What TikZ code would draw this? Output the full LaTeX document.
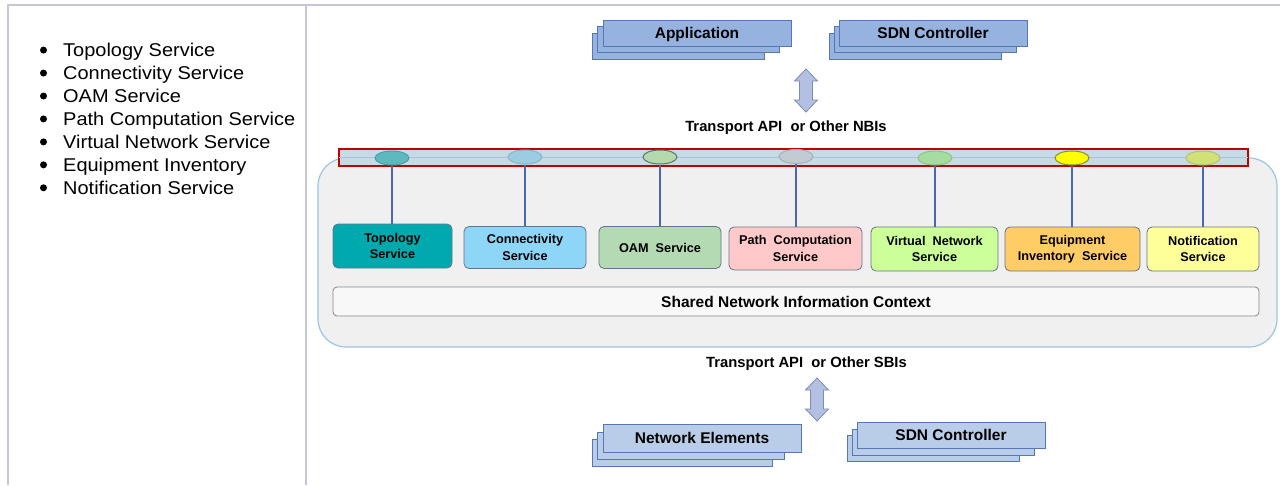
\documentclass[tikz,border=0pt]{standalone}
\usepackage{fontspec}
\setmainfont{Liberation Sans}
\newfontfamily\listfont[FakeStretch=1.08]{Liberation Sans}
\usetikzlibrary{shapes.geometric}
\definecolor{tablegray}{HTML}{C4C8D4}
\definecolor{contfill}{HTML}{F0F0F0}
\definecolor{contedge}{HTML}{9DC3E6}
\definecolor{busred}{HTML}{C00000}
\definecolor{busfill}{HTML}{C8DAE6}
\definecolor{busline}{HTML}{A6C4DA}
\definecolor{linkblue}{HTML}{4A68B0}
\definecolor{boxedge}{HTML}{66748C}
\definecolor{topblue}{HTML}{95B3DE}
\definecolor{botblue}{HTML}{B9CDE8}
\definecolor{stackedge}{HTML}{5577B8}
\definecolor{arrowfill}{HTML}{B4C0E2}
\definecolor{arrowedge}{HTML}{7C8CB4}
\definecolor{sharedfill}{HTML}{F8F8F8}
\definecolor{sharededge}{HTML}{808890}
\definecolor{cTopo}{HTML}{00A9AD}
\definecolor{cConn}{HTML}{8DD6F7}
\definecolor{cOam}{HTML}{B3DAB3}
\definecolor{cPath}{HTML}{FFC9C9}
\definecolor{cVirt}{HTML}{CCFF99}
\definecolor{cEquip}{HTML}{FFCC66}
\definecolor{cNotif}{HTML}{FFFF99}
\definecolor{pTopoF}{HTML}{5FB8C0}\definecolor{pTopoD}{HTML}{4A9EA8}
\definecolor{pConnF}{HTML}{9CCBE2}\definecolor{pConnD}{HTML}{88B4CC}
\definecolor{pOamF}{HTML}{B5D9AE}\definecolor{pOamD}{HTML}{5C7466}
\definecolor{pPathF}{HTML}{C2CAD4}\definecolor{pPathD}{HTML}{A4AEBC}
\definecolor{pVirtF}{HTML}{A6DCA0}\definecolor{pVirtD}{HTML}{8EC08C}
\definecolor{pEquipF}{HTML}{FFFF00}\definecolor{pEquipD}{HTML}{8A8A40}
\definecolor{pNotifF}{HTML}{D2E07A}\definecolor{pNotifD}{HTML}{B4C070}
\tikzset{
  svc/.style={draw=boxedge, line width=0.8pt, rounded corners=5pt, align=center, inner sep=0pt,
    font=\bfseries\fontsize{12.7}{16.3}\selectfont},
  port/.style={ellipse, minimum width=34pt, minimum height=14pt, inner sep=0pt, line width=1pt},
  link/.style={draw=linkblue, line width=2.4pt},
  stackbox/.style={draw=stackedge, line width=0.8pt, inner sep=0pt},
  biglabel/.style={font=\bfseries\fontsize{15.5}{18}\selectfont, text height=11pt, text depth=0pt},
  apilabel/.style={font=\bfseries\fontsize{14.8}{17}\selectfont, text height=10.5pt, text depth=0pt, inner sep=0pt},
  dblarrow/.style={fill=arrowfill, draw=arrowedge, line width=0.8pt},
  listitem/.style={anchor=base west, inner sep=0pt, font=\listfont\fontsize{18.5}{22}\selectfont},
  bulletdot/.style={circle, fill=black, minimum size=7pt, inner sep=0pt},
}
\begin{document}
\begin{tikzpicture}[x=1pt,y=-1pt]
\useasboundingbox (0,0) rectangle (1280,485);
% table lines
\draw[tablegray, line width=2pt] (8,485) -- (8,5) -- (1280,5);
\draw[tablegray, line width=2pt] (306,5) -- (306,485);
% bullet list
\foreach \t [count=\i from 0] in {Topology Service, Connectivity Service, OAM Service, Path Computation Service, Virtual Network Service, Equipment Inventory, Notification Service}{
  \node[bulletdot] (b\i) at (43.5, {56.6+22.95*\i-6.5}) {};
  \node[listitem] (l\i) at (63, {56.6+22.95*\i}) {\t};
}
% container
\node[draw=contedge, fill=contfill, line width=1.2pt, rounded corners=28pt, minimum width=959pt, minimum height=189pt, inner sep=0pt] (container) at (797.5,252.5) {};
% bus
\node[draw=busred, fill=busfill, line width=1.2pt, minimum width=909pt, minimum height=17pt, inner sep=0pt] (bus) at (793.5,157.5) {};
\draw[busline, line width=1.5pt] ([xshift=1pt]bus.west) -- ([xshift=-1pt]bus.east);
% ports
\node[port, fill=pTopoF, draw=pTopoD] (p1) at (392,158) {};
\node[port, fill=pConnF, draw=pConnD] (p2) at (525,157) {};
\node[port, fill=pOamF, draw=pOamD] (p3) at (660,157) {};
\node[port, fill=pPathF, draw=pPathD] (p4) at (796,156.5) {};
\node[port, fill=pVirtF, draw=pVirtD] (p5) at (935,158) {};
\node[port, fill=pEquipF, draw=pEquipD] (p6) at (1072,158) {};
\node[port, fill=pNotifF, draw=pNotifD] (p7) at (1203,158) {};
% services
\node[svc, fill=cTopo, minimum width=119pt, minimum height=44pt] (s1) at (392.5,246) {Topology\\Service};
\node[svc, fill=cConn, minimum width=122pt, minimum height=42pt] (s2) at (525,247.5) {Connectivity\\Service};
\node[svc, fill=cOam, minimum width=122pt, minimum height=42pt] (s3) at (660,247.5) {OAM~~Service};
\node[svc, fill=cPath, minimum width=133pt, minimum height=43pt] (s4) at (795.5,248.5) {Path~~Computation\\Service};
\node[svc, fill=cVirt, minimum width=127pt, minimum height=44pt] (s5) at (934.5,249) {Virtual~~Network\\Service};
\node[svc, fill=cEquip, minimum width=135pt, minimum height=44pt] (s6) at (1072.5,249) {Equipment\\Inventory~~Service};
\node[svc, fill=cNotif, minimum width=112pt, minimum height=44pt] (s7) at (1203,249) {Notification\\Service};
% links
\foreach \k in {1,...,7}{
  \draw[link] (p\k.south) -- (p\k.south |- s\k.north);
}
% shared context
\node[draw=sharededge, fill=sharedfill, line width=0.8pt, rounded corners=4pt, minimum width=926pt, minimum height=29pt, inner sep=0pt, biglabel] (shared) at (796,301.5) {Shared Network Information Context};
% top stacks
\node[stackbox, fill=topblue, minimum width=172pt, minimum height=26pt] (app3) at (678,46) {};
\node[stackbox, fill=topblue, minimum width=182pt, minimum height=26pt] (app2) at (688,39.5) {};
\node[stackbox, fill=topblue, minimum width=188pt, minimum height=26pt, biglabel] (app) at (697,33) {Application};
\node[stackbox, fill=topblue, minimum width=172pt, minimum height=26pt] (sdn3) at (915,46) {};
\node[stackbox, fill=topblue, minimum width=182pt, minimum height=26pt] (sdn2) at (925,39.5) {};
\node[stackbox, fill=topblue, minimum width=188pt, minimum height=26pt, biglabel] (sdn) at (933,33) {SDN Controller};
% bottom stacks
\node[stackbox, fill=botblue, minimum width=180pt, minimum height=27pt] (ne3) at (682,452.5) {};
\node[stackbox, fill=botblue, minimum width=187pt, minimum height=27pt] (ne2) at (690.5,445.5) {};
\node[stackbox, fill=botblue, minimum width=198pt, minimum height=28pt, biglabel] (ne) at (702,438) {Network Elements};
\node[stackbox, fill=botblue, minimum width=172pt, minimum height=26pt] (bsdn3) at (933,448.5) {};
\node[stackbox, fill=botblue, minimum width=182pt, minimum height=26pt] (bsdn2) at (943,442) {};
\node[stackbox, fill=botblue, minimum width=188pt, minimum height=26pt, biglabel] (bsdn) at (951,435) {SDN Controller};
% api labels
\node[apilabel] (nbi) at (786,126.4) {Transport API~~or Other NBIs};
\node[apilabel] (sbi) at (806.5,362.2) {Transport API~~or Other SBIs};
% double arrows
\draw[dblarrow] (806,69) -- (817.5,81) -- (812.5,81) -- (812.5,100) -- (817.5,100) -- (806,112) -- (794.5,100) -- (799.5,100) -- (799.5,81) -- (794.5,81) -- cycle;
\draw[dblarrow] (817,378) -- (828.5,390) -- (823.5,390) -- (823.5,409) -- (828.5,409) -- (817,421) -- (805.5,409) -- (810.5,409) -- (810.5,390) -- (805.5,390) -- cycle;
\end{tikzpicture}
\end{document}
